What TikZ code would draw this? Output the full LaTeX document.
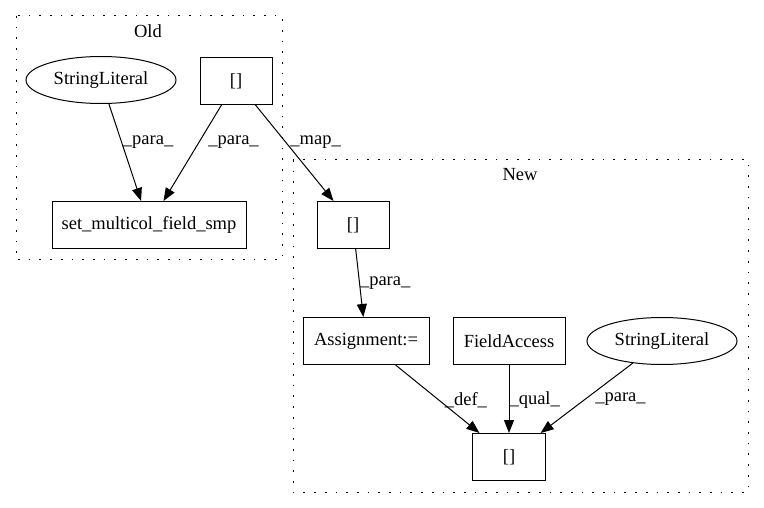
\documentclass[tikz,border=0pt]{standalone}
\usepackage{fontspec}
\setmainfont{Liberation Serif}
\usetikzlibrary{shapes,arrows.meta}

\begin{document}
\begin{tikzpicture}[x=1pt,y=1pt,yscale=-1,xscale=1,
    box/.style={draw, line width=1pt, rectangle, inner sep=0pt, minimum height=47pt, font=\fontsize{18.5}{22}\selectfont},
    oval/.style={draw, line width=1pt, ellipse, inner sep=0pt, minimum width=150pt, minimum height=47pt, font=\fontsize{18.5}{22}\selectfont},
    cluster/.style={line width=1pt, dash pattern={on 1.7pt off 9pt}},
    edge/.style={line width=1pt, -{Triangle[length=13pt,width=10pt]}},
    elabel/.style={anchor=west, inner sep=0pt, font=\fontsize{18.5}{22}\selectfont}]
    \useasboundingbox (0,0) rectangle (764,508);

    %Clusters
    \draw [cluster] (16,16) rectangle (282,260) ;
    \draw [cluster] (293,160) rectangle (748,492) ;
    \node (oldTitle) at (148,31) [inner sep=0pt, font=\fontsize{18.5}{22}\selectfont] {Old};
    \node (newTitle) at (520,175) [inner sep=0pt, font=\fontsize{18.5}{22}\selectfont] {New};

    % Old nodes
    \node (oldLiteral) at (101,80) [oval] {StringLiteral};
    \node (oldIndex) at (236,81) [box, minimum width=72pt] {[]};
    \node (setField) at (149,225) [box, minimum width=194pt] {set\_multicol\_field\_smp};

    % New nodes
    \node (newIndex) at (353,225) [box, minimum width=72pt] {[]};
    \node (assign) at (366,341) [box, minimum width=126pt] {Assignment:=};
    \node (fieldAcc) at (509,341) [box, minimum width=112pt] {FieldAccess};
    \node (newLiteral) at (662,341) [oval] {StringLiteral};
    \node (outIndex) at (509,457) [box, minimum width=73pt] {[]};

    % Edges
    \draw [edge] (oldLiteral) -- node [elabel, pos=0.39, xshift=1pt] {\_para\_} (setField) ;
    \draw [edge] (oldIndex) -- node [elabel, pos=0.39, xshift=9pt] {\_para\_} (setField) ;
    \draw [edge] (oldIndex) -- node [elabel, pos=0.39, xshift=4pt] {\_map\_} (newIndex) ;
    \draw [edge] (newIndex) -- node [elabel, pos=0.5, xshift=0pt] {\_para\_} (assign) ;
    \draw [edge] (assign) -- node [elabel, pos=0.51, xshift=6pt] {\_def\_} (outIndex) ;
    \draw [edge] (fieldAcc) -- node [elabel, pos=0.51, xshift=0pt] {\_qual\_} (outIndex) ;
    \draw [edge] (newLiteral) -- node [elabel, pos=0.52, xshift=10pt] {\_para\_} (outIndex) ;

\end{tikzpicture}
\end{document}
